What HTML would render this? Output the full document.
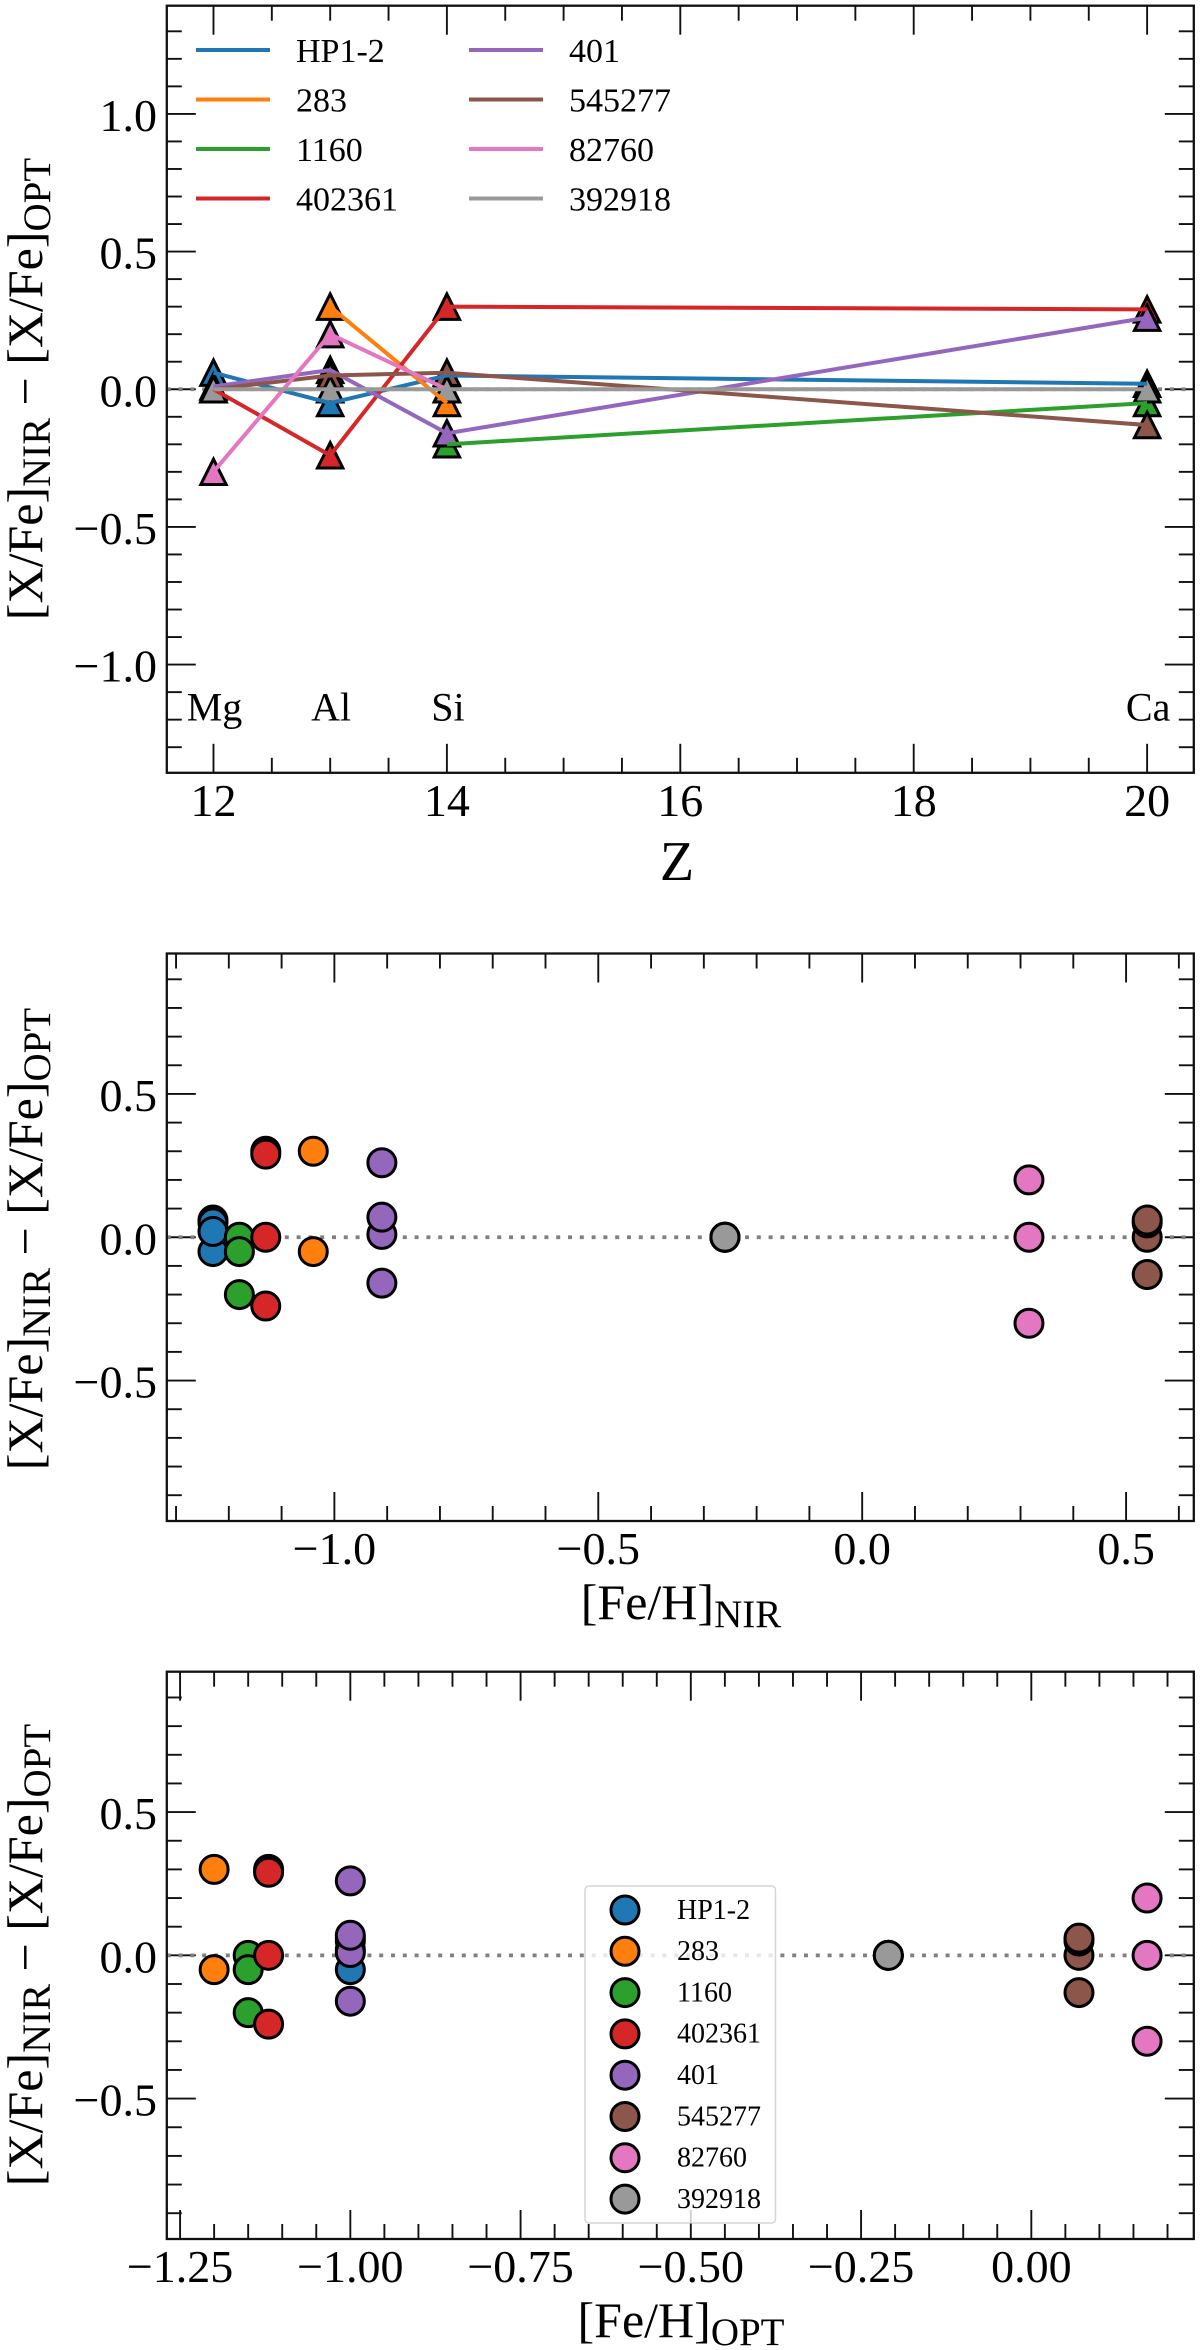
<!DOCTYPE html>
<html lang="en">
<head>
<meta charset="utf-8">
<title>NIR vs optical abundance differences</title>
<style>
html,body{margin:0;padding:0;background:#fff;}
svg{display:block;font-family:"Liberation Serif",serif;fill:#000;}
</style>
</head>
<body>
<svg id="chart" xmlns="http://www.w3.org/2000/svg" width="1200" height="2350" viewBox="0 0 1200 2350"></svg>
<script>
// ---- data ----
const starNames = ['HP1-2', '283', '1160', '402361', '401', '545277', '82760', '392918'];
const seriesColors = ['#1f77b4', '#ff7f0e', '#2ca02c', '#d62728', '#9467bd', '#8c564b', '#e377c2', '#999999'];
const atomicNumbers = [12, 13, 14, 20];
const elementNames = ['Mg', 'Al', 'Si', 'Ca'];
// [X/Fe]NIR - [X/Fe]OPT per star for Mg, Al, Si, Ca (null = not measured)
const diffHP12 = [0.06, -0.05, 0.05, 0.02];
const diff283 = [null, 0.30, -0.05, null];
const diff1160 = [0.00, null, -0.20, -0.05];
const diff402361 = [0.00, -0.24, 0.30, 0.29];
const diff401 = [0.01, 0.07, -0.16, 0.26];
const diff545277 = [0.00, 0.05, 0.06, -0.13];
const diff82760 = [-0.30, 0.20, 0.00, null];
const diff392918 = [0.00, 0.00, 0.00, 0.00];
const allDiffs = [diffHP12, diff283, diff1160, diff402361, diff401, diff545277, diff82760, diff392918];
const feHNir = [-1.23, -1.04, -1.18, -1.13, -0.91, 0.54, 0.316, -0.26];
const feHOpt = [-1.00, -1.20, -1.15, -1.12, -1.00, 0.07, 0.17, -0.21];
const zTicks = [12, 14, 16, 18, 20];
const diffTicksWide = [-1.0, -0.5, 0.0, 0.5, 1.0];
const diffTicksNarrow = [-0.5, 0.0, 0.5];
const nirTicks = [-1.0, -0.5, 0.0, 0.5];
const optTicks = [-1.25, -1.00, -0.75, -0.50, -0.25, 0.00];

// ---- helpers ----
const svg = document.getElementById('chart');
const NS = 'http://www.w3.org/2000/svg';
function mk(parent, tag, attrs) {
  const e = document.createElementNS(NS, tag);
  for (const k in attrs) e.setAttribute(k, attrs[k]);
  parent.appendChild(e);
  return e;
}
function fmt(v, d) {
  return (v < 0 ? '\u2212' : '') + Math.abs(v).toFixed(d);
}
function makeAxes(name, box, xlim, ylim, xMajor, xMinorStep, yMajor, yMinorStep, xDec, yDec) {
  const g = mk(svg, 'g', {});
  
  
  const sx = v => box.l + (v - xlim[0]) / (xlim[1] - xlim[0]) * (box.r - box.l);
  const sy = v => box.b - (v - ylim[0]) / (ylim[1] - ylim[0]) * (box.b - box.t);

  const ticks = mk(g, 'g', {stroke: '#111', 'stroke-width': 1.9, fill: 'none'});
  
  
  const seg = (x1, y1, x2, y2) => mk(ticks, 'line', {x1: x1, y1: y1, x2: x2, y2: y2});
  const major = 29, minor = 15;
  const isMajor = (v, list) => list.some(t => Math.abs(t - v) < 1e-6);
  const nx = Math.ceil((xlim[1] - xlim[0]) / xMinorStep) + 2;
  const x0 = Math.ceil(xlim[0] / xMinorStep) * xMinorStep;
  for (let i = 0; i < nx; i++) {
    const v = x0 + i * xMinorStep;
    if (v > xlim[1]) break;
    const len = isMajor(v, xMajor) ? major : minor;
    seg(sx(v), box.b, sx(v), box.b - len);
    seg(sx(v), box.t, sx(v), box.t + len);
  }
  const ny = Math.ceil((ylim[1] - ylim[0]) / yMinorStep) + 2;
  const y0 = Math.ceil(ylim[0] / yMinorStep) * yMinorStep;
  for (let i = 0; i < ny; i++) {
    const v = y0 + i * yMinorStep;
    if (v > ylim[1]) break;
    const len = isMajor(v, yMajor) ? major : minor;
    seg(box.l, sy(v), box.l + len, sy(v));
    seg(box.r, sy(v), box.r - len, sy(v));
  }

  xMajor.forEach(v => {
    const t = mk(g, 'text', {x: sx(v), y: box.b + 43, 'text-anchor': 'middle', 'font-size': 46});
    
    
    t.textContent = fmt(v, xDec);
  });
  yMajor.forEach(v => {
    const t = mk(g, 'text', {x: 157, y: sy(v) + 17, 'text-anchor': 'end', 'font-size': 46});
    
    
    t.textContent = fmt(v, yDec);
  });

  const zero = mk(g, 'line', {x1: box.l, x2: box.r, y1: sy(0), y2: sy(0), stroke: '#808080', 'stroke-width': 3.8, 'stroke-dasharray': '4 7.8'});
  
  

  return {g: g, sx: sx, sy: sy, box: box};
}
function frame(ax) {
  const r = mk(ax.g, 'rect', {x: ax.box.l, y: ax.box.t, width: ax.box.r - ax.box.l, height: ax.box.b - ax.box.t, fill: 'none', stroke: '#111', 'stroke-width': 2.3});
  
  
}
function yTitle(ax, cy) {
  const t = mk(ax.g, 'text', {transform: 'translate(42,' + cy + ') rotate(-90)', 'text-anchor': 'middle', 'font-size': 50});
  
  
  const a = mk(t, 'tspan', {}); a.textContent = '[X/Fe]';
  const b = mk(t, 'tspan', {dy: 8, 'font-size': 40}); b.textContent = 'NIR';
  const c = mk(t, 'tspan', {dy: -8}); c.textContent = ' \u2212 [X/Fe]';
  const d = mk(t, 'tspan', {dy: 8, 'font-size': 39}); d.textContent = 'OPT';
}
function xTitle(ax, sub, baseline) {
  const t = mk(ax.g, 'text', {x: 681, y: baseline, 'text-anchor': 'middle', 'font-size': 50});
  
  
  const a = mk(t, 'tspan', {}); a.textContent = '[Fe/H]';
  const b = mk(t, 'tspan', {dy: 8, 'font-size': 39}); b.textContent = sub;
}
function scatterPanel(ax, xs) {
  allDiffs.forEach((vals, s) => {
    const grp = mk(ax.g, 'g', {});
    
    
    vals.forEach(v => {
      if (v === null) return;
      const c = mk(grp, 'circle', {cx: ax.sx(xs[s]), cy: ax.sy(v), r: 14, fill: seriesColors[s], stroke: '#000', 'stroke-width': 3});
      
      
    });
  });
}

// ---- panel 1: difference vs atomic number ----
const ax1 = makeAxes('panel-difference-vs-z', {l: 166.8, r: 1193.8, t: 5.7, b: 772.8}, [11.6, 20.4], [-1.393, 1.393],
  zTicks, 0.5, diffTicksWide, 0.1, 0, 1);
const tri = 12.7;
allDiffs.forEach((vals, s) => {
  const grp = mk(ax1.g, 'g', {});
  
  
  vals.forEach((v, i) => {
    if (v === null) return;
    const x = ax1.sx(atomicNumbers[i]), y = ax1.sy(v);
    const p = mk(grp, 'polygon', {
      points: x + ',' + (y - tri) + ' ' + (x - tri) + ',' + (y + tri) + ' ' + (x + tri) + ',' + (y + tri),
      fill: seriesColors[s], stroke: '#000', 'stroke-width': 3, 'stroke-linejoin': 'miter', 'stroke-miterlimit': 10
    });
    
    
  });
});
allDiffs.forEach((vals, s) => {
  let segment = [];
  const flush = () => {
    if (segment.length > 1) {
      const l = mk(ax1.g, 'polyline', {points: segment.join(' '), fill: 'none', stroke: seriesColors[s], 'stroke-width': 4, 'stroke-linejoin': 'round'});
      
      
    }
    segment = [];
  };
  vals.forEach((v, i) => {
    if (v === null) { flush(); return; }
    segment.push(ax1.sx(atomicNumbers[i]) + ',' + ax1.sy(v));
  });
  flush();
});
elementNames.forEach((n, i) => {
  const t = mk(ax1.g, 'text', {x: ax1.sx(atomicNumbers[i]) + 1, y: 720.5, 'text-anchor': 'middle', 'font-size': 40});
  
  
  t.textContent = n;
});
// line legend (two columns of four)
const legend1 = mk(ax1.g, 'g', {});


starNames.forEach((n, i) => {
  const col = i < 4 ? 0 : 1, row = i % 4;
  const y = 50 + row * 49.5;
  const x0 = col === 0 ? 196 : 469;
  const l = mk(legend1, 'line', {x1: x0, x2: x0 + 74, y1: y, y2: y, stroke: seriesColors[i], 'stroke-width': 4});
  
  
  const t = mk(legend1, 'text', {x: x0 + 100, y: y + 12, 'font-size': 34});
  
  
  t.textContent = n;
});
yTitle(ax1, 389);
const zTitle = mk(ax1.g, 'text', {x: 677, y: 880, 'text-anchor': 'middle', 'font-size': 56});


zTitle.textContent = 'Z';
frame(ax1);

// ---- panel 2: difference vs [Fe/H]NIR ----
const ax2 = makeAxes('panel-difference-vs-feh-nir', {l: 166.8, r: 1193.8, t: 953.5, b: 1521}, [-1.3175, 0.6283], [-0.99, 0.99],
  nirTicks, 0.1, diffTicksNarrow, 0.1, 1, 1);
scatterPanel(ax2, feHNir);
yTitle(ax2, 1239);
xTitle(ax2, 'NIR', 1619);
frame(ax2);

// ---- panel 3: difference vs [Fe/H]OPT ----
const ax3 = makeAxes('panel-difference-vs-feh-opt', {l: 166.8, r: 1193.8, t: 1671.7, b: 2239}, [-1.2695, 0.2386], [-0.99, 0.99],
  optTicks, 0.05, diffTicksNarrow, 0.1, 2, 1);
scatterPanel(ax3, feHOpt);
const legend3 = mk(ax3.g, 'g', {});


const legendBox = mk(legend3, 'rect', {x: 585, y: 1886, width: 190.5, height: 337, rx: 4, fill: 'rgba(255,255,255,0.8)', stroke: 'rgba(204,204,204,0.8)', 'stroke-width': 1.5});


starNames.forEach((n, i) => {
  const y = 1910 + i * 41.3;
  const c = mk(legend3, 'circle', {cx: 625, cy: y, r: 14, fill: seriesColors[i], stroke: '#000', 'stroke-width': 3});
  
  
  const t = mk(legend3, 'text', {x: 677, y: y + 8.8, 'font-size': 28});
  
  
  t.textContent = n;
});
yTitle(ax3, 1955);
xTitle(ax3, 'OPT', 2337);
frame(ax3);
</script>
</body>
</html>
